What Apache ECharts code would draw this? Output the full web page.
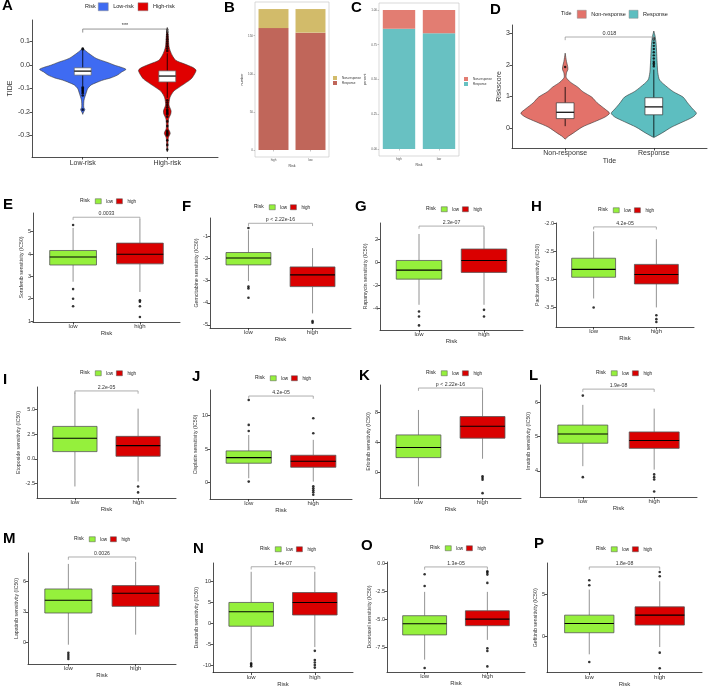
<!DOCTYPE html>
<html><head><meta charset="utf-8">
<script src="https://cdn.jsdelivr.net/npm/echarts@6/dist/echarts.min.js"></script>
<style>html,body{margin:0;padding:0;background:#fff}#c{width:708px;height:688px}</style>
</head><body><div id="c"></div>
<script>
// ---------------- DATA ----------------
const riskCats = ['low', 'high'];
const tideCats = ['Low-risk', 'High-risk'];
const responseCats = ['Non-response', 'Response'];
const barCats = ['high', 'low'];

// A: TIDE by risk group (box stats: min, q1, median, q3, max)
const tideLowBox = [-0.09, -0.043, -0.026, -0.012, 0.062];
const tideHighBox = [-0.14, -0.072, -0.047, -0.025, 0.05];
const tideLowOut = [0.066, 0.07, -0.095, -0.1, -0.105, -0.11, -0.115, -0.12, -0.13, -0.19];
const tideHighOut = [0.06, 0.07, 0.08, 0.09, 0.1, 0.11, 0.12, 0.13, 0.14, 0.15,
  -0.15, -0.16, -0.17, -0.18, -0.19, -0.195, -0.2, -0.205, -0.21, -0.22, -0.24, -0.26, -0.28, -0.285, -0.29, -0.295, -0.3, -0.32, -0.34, -0.36];
const tideLowViolin = [[0.072,0],[0.06,0.035],[0.05,0.07],[0.028,0.16],[0.01,0.3],[0.0,0.37],[-0.018,0.51],[-0.03,0.46],[-0.043,0.41],[-0.055,0.33],[-0.064,0.24],[-0.075,0.16],[-0.085,0.1],[-0.1,0.06],[-0.12,0.04],[-0.15,0.015],[-0.18,0.012],[-0.19,0.025],[-0.2,0.01],[-0.21,0]];
const tideHighViolin = [[0.16,0],[0.12,0.012],[0.08,0.02],[0.06,0.035],[0.04,0.06],[0.02,0.1],[0.005,0.2],[-0.01,0.3],[-0.022,0.34],[-0.04,0.32],[-0.06,0.28],[-0.078,0.21],[-0.095,0.14],[-0.11,0.08],[-0.125,0.05],[-0.14,0.03],[-0.17,0.02],[-0.195,0.045],[-0.21,0.04],[-0.23,0.015],[-0.27,0.012],[-0.29,0.035],[-0.31,0.012],[-0.35,0.006],[-0.37,0]];
const tideTicks = [-0.3, -0.2, -0.1, 0.0, 0.1];
const tideBracket = 0.153;
const tideP = '***';

// B: counts (high, low)
const responseCount = [160, 154];
const nonResponseCount = [25, 31];
const countTicks = [0, 50, 100, 150];
// C: proportions (high, low)
const responsePct = [0.865, 0.832];
const nonResponsePct = [0.135, 0.168];
const pctTicks = [0, 0.25, 0.5, 0.75, 1];

// D: Riskscore by Tide response
const nonRespBox = [0.06, 0.3, 0.5, 0.8, 1.3];
const respBox = [-0.28, 0.42, 0.67, 0.96, 1.85];
const nonRespOut = [1.93];
const respOut = [1.95, 2.0, 2.05, 2.1, 2.2, 2.3, 2.4, 2.5, 2.6, 2.7, 2.8, 2.85];
const nonRespViolin = [[2.37,0],[2.1,0.015],[1.95,0.028],[1.85,0.03],[1.75,0.015],[1.6,0.012],[1.45,0.06],[1.3,0.14],[1.15,0.2],[0.98,0.3],[0.8,0.36],[0.6,0.45],[0.47,0.5],[0.35,0.45],[0.2,0.33],[0.03,0.19],[-0.16,0.09],[-0.25,0.04],[-0.35,0]];
const respViolin = [[3.07,0],[2.9,0.015],[2.7,0.025],[2.5,0.03],[2.2,0.035],[1.93,0.04],[1.75,0.045],[1.52,0.065],[1.3,0.15],[1.15,0.22],[0.98,0.33],[0.8,0.38],[0.6,0.44],[0.47,0.48],[0.35,0.44],[0.2,0.33],[0.03,0.2],[-0.16,0.09],[-0.3,0]];
const riskscoreTicks = [0, 1, 2, 3];
const riskscoreBracket = 2.88;
const riskscoreP = '0.018';

// E-P: drug sensitivity (IC50) boxes: min, q1, median, q3, max
const sorafenibLow = [2.76, 3.51, 3.87, 4.16, 5.17];
const sorafenibHigh = [2.3, 3.56, 3.99, 4.49, 5.55];
const sorafenibLowOut = [5.3, 2.43, 2.0, 1.66];
const sorafenibHighOut = [1.93, 1.86, 1.66, 1.18];
const sorafenibTicks = [1, 2, 3, 4, 5];
const sorafenibBracket = 5.65;
const sorafenibP = '0.0033';

const gemcitabineLow = [-3.02, -2.29, -1.98, -1.73, -0.72];
const gemcitabineHigh = [-4.48, -3.27, -2.74, -2.38, -1.53];
const gemcitabineLowOut = [-0.62, -3.27, -3.35, -3.77];
const gemcitabineHighOut = [-4.83, -4.9];
const gemcitabineTicks = [-5, -4, -3, -2, -1];
const gemcitabineBracket = -0.41;
const gemcitabineP = 'p < 2.22e-16';

const rapamycinLow = [-3.7, -1.46, -0.67, 0.17, 2.48];
const rapamycinHigh = [-3.7, -0.87, 0.17, 1.17, 3.05];
const rapamycinLowOut = [-4.29, -4.72, -5.5];
const rapamycinHighOut = [-4.14, -4.72];
const rapamycinTicks = [-4, -2, 0, 2];
const rapamycinBracket = 3.17;
const rapamycinP = '2.3e-07';

const paclitaxelLow = [-3.34, -2.96, -2.82, -2.62, -2.14];
const paclitaxelHigh = [-3.5, -3.08, -2.91, -2.73, -2.28];
const paclitaxelLowOut = [-3.5];
const paclitaxelHighOut = [-3.64, -3.71, -3.76];
const paclitaxelTicks = [-3.5, -3.0, -2.5, -2.0];
const paclitaxelBracket = -2.06;
const paclitaxelP = '4.2e-05';

const etoposideLow = [-2.8, 0.74, 2.09, 3.3, 6.75];
const etoposideHigh = [-2.29, 0.27, 1.35, 2.29, 5.1];
const etoposideLowOut = [];
const etoposideHighOut = [-2.8, -3.4];
const etoposideTicks = [-2.5, 0.0, 2.5, 5.0];
const etoposideBracket = 6.9;
const etoposideP = '2.2e-05';

const cisplatinLow = [0.65, 2.89, 3.73, 4.73, 7.1];
const cisplatinHigh = [0.15, 2.29, 3.18, 4.08, 6.37];
const cisplatinLowOut = [7.7, 8.6, 12.3, 0.15];
const cisplatinHighOut = [7.36, 9.6, -0.55, -0.85, -1.15, -1.45, -1.8];
const cisplatinTicks = [0, 5, 10];
const cisplatinBracket = 12.9;
const cisplatinP = '4.2e-05';

const erlotinibLow = [-1.8, 2.0, 3.34, 5.0, 8.3];
const erlotinibHigh = [1.85, 4.57, 6.15, 7.43, 10.9];
const erlotinibLowOut = [];
const erlotinibHighOut = [-0.48, -0.7, -0.92, -2.7];
const erlotinibTicks = [0, 4, 8];
const erlotinibBracket = 11.2;
const erlotinibP = 'p < 2.22e-16';

const imatinibLow = [4.14, 4.81, 5.08, 5.34, 5.93];
const imatinibHigh = [4.04, 4.66, 4.89, 5.14, 5.82];
const imatinibLowOut = [6.2, 3.82];
const imatinibHighOut = [3.9, 3.82, 3.75, 3.4];
const imatinibTicks = [4, 5, 6];
const imatinibBracket = 6.39;
const imatinibP = '1.9e-08';

const lapatinibLow = [-0.2, 2.9, 4.14, 5.25, 7.7];
const lapatinibHigh = [0.78, 3.55, 4.83, 5.58, 7.9];
const lapatinibLowOut = [-1.0, -1.2, -1.4, -1.6];
const lapatinibHighOut = [];
const lapatinibTicks = [0, 3, 6];
const lapatinibBracket = 8.38;
const lapatinibP = '0.0026';

const dasatinibLow = [-9.2, -0.71, 2.76, 4.97, 12.3];
const dasatinibHigh = [-5.7, 1.97, 4.97, 7.34, 12.3];
const dasatinibLowOut = [-9.6, -9.9, -10.3];
const dasatinibHighOut = [-6.6, -8.8, -9.4, -10.0, -10.6];
const dasatinibTicks = [-10, -5, 0, 5, 10];
const dasatinibBracket = 13.5;
const dasatinibP = '1.4e-07';

const docetaxelLow = [-8.6, -6.4, -5.4, -4.69, -2.57];
const docetaxelHigh = [-6.84, -5.58, -4.99, -4.25, -2.57];
const docetaxelLowOut = [-2.04, -1.0, -9.35];
const docetaxelHighOut = [-1.77, -1.03, -0.86, -0.74, -7.58, -7.82, -9.2];
const docetaxelTicks = [-7.5, -5.0, -2.5, 0.0];
const docetaxelBracket = -0.35;
const docetaxelP = '1.3e-05';

const gefitinibLow = [-2.2, 0.4, 1.52, 2.52, 5.6];
const gefitinibHigh = [-1.32, 1.32, 2.52, 3.52, 6.6];
const gefitinibLowOut = [6.12, 6.72, -3.12];
const gefitinibHighOut = [7.2, 7.72, -2.0, -3.88];
const gefitinibTicks = [0, 5];
const gefitinibBracket = 8.32;
const gefitinibP = '1.8e-08';

// ---------------- LAYOUT & STYLE ----------------
const FONT = '"Liberation Sans", Arial, Helvetica, sans-serif';
const GREEN = '#95F03C', RED = '#DA0000';

const drugPanels = [
  {id:'E', g:[33,213,180,322], y:[0.955,5.84], dec:0, name:'Sorafenib sensitivity (IC50)', ng:6, L:[3,206], lg:[80,201],
   d:[sorafenibLow, sorafenibHigh, sorafenibLowOut, sorafenibHighOut, sorafenibTicks, sorafenibBracket, sorafenibP]},
  {id:'F', g:[210,218,351,328], y:[-5.14,-0.17], dec:0, name:'Gemcitabine sensitivity (IC50)', ng:11, L:[182,208], lg:[254,207],
   d:[gemcitabineLow, gemcitabineHigh, gemcitabineLowOut, gemcitabineHighOut, gemcitabineTicks, gemcitabineBracket, gemcitabineP]},
  {id:'G', g:[380,223,523,330], y:[-5.9,3.44], dec:0, name:'Rapamycin sensitivity (IC50)', ng:12, L:[355,208], lg:[426,209],
   d:[rapamycinLow, rapamycinHigh, rapamycinLowOut, rapamycinHighOut, rapamycinTicks, rapamycinBracket, rapamycinP]},
  {id:'H', g:[556,223,694,327], y:[-3.85,-1.99], dec:1, name:'Paclitaxel sensitivity (IC50)', ng:16, L:[531,208], lg:[598,210],
   d:[paclitaxelLow, paclitaxelHigh, paclitaxelLowOut, paclitaxelHighOut, paclitaxelTicks, paclitaxelBracket, paclitaxelP]},
  {id:'I', g:[37,387,176,498], y:[-3.97,7.3], dec:1, name:'Etoposide sensitivity (IC50)', ng:16, L:[3,381], lg:[80,373],
   d:[etoposideLow, etoposideHigh, etoposideLowOut, etoposideHighOut, etoposideTicks, etoposideBracket, etoposideP]},
  {id:'J', g:[210,390,352,499], y:[-2.44,13.8], dec:0, name:'Cisplatin sensitivity (IC50)', ng:9, L:[192,378], lg:[255,378],
   d:[cisplatinLow, cisplatinHigh, cisplatinLowOut, cisplatinHighOut, cisplatinTicks, cisplatinBracket, cisplatinP]},
  {id:'K', g:[380,385,521,498], y:[-3.34,11.6], dec:0, name:'Erlotinib sensitivity (IC50)', ng:8, L:[359,377], lg:[426,373],
   d:[erlotinibLow, erlotinibHigh, erlotinibLowOut, erlotinibHighOut, erlotinibTicks, erlotinibBracket, erlotinibP]},
  {id:'L', g:[540,385,697,497], y:[3.24,6.51], dec:0, name:'Imatinib sensitivity (IC50)', ng:6, L:[529,377], lg:[596,373],
   d:[imatinibLow, imatinibHigh, imatinibLowOut, imatinibHighOut, imatinibTicks, imatinibBracket, imatinibP]},
  {id:'M', g:[28,553,176,664], y:[-2.09,8.77], dec:0, name:'Lapatinib sensitivity (IC50)', ng:7, L:[3,540], lg:[74,539],
   d:[lapatinibLow, lapatinibHigh, lapatinibLowOut, lapatinibHighOut, lapatinibTicks, lapatinibBracket, lapatinibP]},
  {id:'N', g:[213,563,353,674], y:[-11.8,14.4], dec:0, name:'Dasatinib sensitivity (IC50)', ng:12, L:[193,550], lg:[260,549],
   d:[dasatinibLow, dasatinibHigh, dasatinibLowOut, dasatinibHighOut, dasatinibTicks, dasatinibBracket, dasatinibP]},
  {id:'O', g:[387,562,525,672], y:[-9.7,0.09], dec:1, name:'Docetaxel sensitivity (IC50)', ng:15, L:[361,547], lg:[430,548],
   d:[docetaxelLow, docetaxelHigh, docetaxelLowOut, docetaxelHighOut, docetaxelTicks, docetaxelBracket, docetaxelP]},
  {id:'P', g:[547,563,702,673], y:[-4.4,8.8], dec:0, name:'Gefitinib sensitivity (IC50)', ng:7, L:[534,545], lg:[596,549],
   d:[gefitinibLow, gefitinibHigh, gefitinibLowOut, gefitinibHighOut, gefitinibTicks, gefitinibBracket, gefitinibP]}
];

const grids = [], xAxes = [], yAxes = [], series = [], titles = [], legends = [];

function addGrid(g) {
  grids.push({left: g[0], top: g[1], width: g[2] - g[0], height: g[3] - g[1], containLabel: false});
  return grids.length - 1;
}
function valueX(idx, cats, fs, margin, name, nameGap) {
  xAxes.push({type: 'value', gridIndex: idx, min: 0.4, max: 2.6,
    axisLine: {show: true, onZero: false, lineStyle: {color: '#222', width: 0.8}},
    axisTick: {show: true, customValues: [1, 2], length: 2.5, lineStyle: {color: '#222', width: 0.8}},
    axisLabel: {customValues: [1, 2], formatter: v => cats[Math.round(v) - 1], fontSize: fs, color: '#333', margin: margin, fontFamily: FONT},
    splitLine: {show: false},
    name: name || '', nameLocation: 'middle', nameGap: nameGap || 0,
    nameTextStyle: {fontSize: fs, color: '#333', fontFamily: FONT}});
}
function valueY(idx, range, ticks, dec, fs, name, nameGap, nfs) {
  yAxes.push({type: 'value', gridIndex: idx, min: range[0], max: range[1],
    axisLine: {show: true, onZero: false, lineStyle: {color: '#222', width: 0.8}},
    axisTick: {show: true, customValues: ticks, length: 2.5, lineStyle: {color: '#222', width: 0.8}},
    axisLabel: {customValues: ticks, formatter: v => v.toFixed(dec), fontSize: fs, color: '#333', margin: 2, fontFamily: FONT},
    splitLine: {show: false},
    name: name, nameLocation: 'middle', nameRotate: 90, nameGap: nameGap,
    nameTextStyle: {fontSize: nfs, color: '#333', fontFamily: FONT}});
}
function boxSeries(idx, name, x, stats, o) {
  series.push({type: 'custom', name: name, xAxisIndex: idx, yAxisIndex: idx, z: 3, silent: true,
    itemStyle: {color: o.fill},
    data: [[x].concat(stats)],
    renderItem: function (params, api) {
      const xv = api.value(0);
      const p = i => api.coord([xv, api.value(i)]);
      const mn = p(1), q1 = p(2), md = p(3), q3 = p(4), mx = p(5);
      const l = api.coord([xv - o.w / 2, 0])[0], r = api.coord([xv + o.w / 2, 0])[0];
      const ws = {stroke: o.whisker, lineWidth: o.wlw};
      return {type: 'group', children: [
        {type: 'line', shape: {x1: mn[0], y1: mn[1], x2: q1[0], y2: q1[1]}, style: ws},
        {type: 'line', shape: {x1: q3[0], y1: q3[1], x2: mx[0], y2: mx[1]}, style: ws},
        {type: 'rect', shape: {x: l, y: q3[1], width: r - l, height: q1[1] - q3[1]}, style: {fill: o.fill, stroke: o.border, lineWidth: o.blw}},
        {type: 'line', shape: {x1: l, y1: md[1], x2: r, y2: md[1]}, style: {stroke: '#000', lineWidth: o.mlw}}
      ]};
    }});
}
function violinSeries(idx, name, x, profile, fill) {
  series.push({type: 'custom', name: name, xAxisIndex: idx, yAxisIndex: idx, z: 2, silent: true,
    itemStyle: {color: fill},
    data: [[x, profile[profile.length - 1][0], profile[0][0]]],
    renderItem: function (params, api) {
      const xv = api.value(0);
      const right = profile.map(p => api.coord([xv + p[1], p[0]]));
      const left = profile.slice().reverse().map(p => api.coord([xv - p[1], p[0]]));
      return {type: 'polygon', shape: {points: right.concat(left), smooth: 0.25},
        style: {fill: fill, stroke: '#333', lineWidth: 0.6}};
    }});
}
function outlierSeries(idx, x, vals, size) {
  series.push({type: 'scatter', xAxisIndex: idx, yAxisIndex: idx, z: 5, silent: true,
    symbolSize: size, itemStyle: {color: '#000'},
    data: vals.map(v => [x, v])});
}
function bracketSeries(idx, yVal, tip, label, fs, color) {
  series.push({type: 'custom', xAxisIndex: idx, yAxisIndex: idx, z: 6, silent: true,
    data: [[1, 2, yVal]],
    renderItem: function (params, api) {
      const a = api.coord([api.value(0), api.value(2)]), b = api.coord([api.value(1), api.value(2)]);
      const a2 = api.coord([api.value(0), api.value(2) - tip]), b2 = api.coord([api.value(1), api.value(2) - tip]);
      return {type: 'group', children: [
        {type: 'polyline', shape: {points: [a2, a, b, b2]}, style: {stroke: color, lineWidth: 0.8, fill: null}},
        {type: 'text', style: {text: label, x: (a[0] + b[0]) / 2, y: a[1] - 0.8, align: 'center', verticalAlign: 'bottom',
          fontSize: fs, fill: '#333', fontFamily: FONT}}
      ]};
    }});
}
function letter(t, pos) {
  titles.push({text: t, left: pos[0], top: pos[1] - 8.5, padding: 0,
    textStyle: {fontSize: 15, fontWeight: 'bold', color: '#000', fontFamily: FONT}});
}
function label(t, x, cy, fs) {
  titles.push({text: t, left: x, top: cy - fs * 0.6, padding: 0,
    textStyle: {fontSize: fs, fontWeight: 'normal', color: '#222', fontFamily: FONT}});
}

// ---- Panel A ----
(function () {
  const i = addGrid([32, 20, 218, 157]);
  valueX(i, tideCats, 7, 2.5);
  valueY(i, [-0.3915, 0.1915], tideTicks, 1, 7, 'TIDE', 13, 7);
  violinSeries(i, 'Low-risk', 1, tideLowViolin, '#3F6BF2');
  violinSeries(i, 'High-risk', 2, tideHighViolin, '#E00000');
  const o = {w: 0.2, fill: '#fff', border: '#666', blw: 0.7, whisker: '#000', wlw: 0.8, mlw: 1.2};
  boxSeries(i, 'Low-risk', 1, tideLowBox, o);
  boxSeries(i, 'High-risk', 2, tideHighBox, o);
  outlierSeries(i, 1, tideLowOut, 2.6);
  outlierSeries(i, 2, tideHighOut, 2.6);
  bracketSeries(i, tideBracket, 0.015, tideP, 5.5, '#777');
  letter('A', [2, 7]);
  label('Risk', 85, 6.5, 5.5);
  legends.push({left: 98, top: 2.5, itemWidth: 10, itemHeight: 8, itemGap: 4, icon: 'rect', selectedMode: false, padding: 0,
    textStyle: {fontSize: 5.5, color: '#222', fontFamily: FONT},
    data: [{name: 'Low-risk', itemStyle: {color: '#3F6BF2', borderColor: '#888', borderWidth: 0.5}},
           {name: 'High-risk', itemStyle: {color: '#E00000', borderColor: '#888', borderWidth: 0.5}}]});
})();

// ---- Panels B and C ----
function barPanel(g, range, ticks, dec, yname, resp, nonResp, colResp, colNon, legendPos, ynameGap) {
  const i = addGrid(g);
  grids[i].show = true; grids[i].borderColor = '#c8c8c8'; grids[i].borderWidth = 0.7; grids[i].backgroundColor = '#fff';
  xAxes.push({type: 'category', gridIndex: i, data: barCats,
    axisLine: {show: false}, axisTick: {show: true, length: 1.5, alignWithLabel: true, lineStyle: {color: '#888', width: 0.5}},
    axisLabel: {fontSize: 3, color: '#555', margin: 2, fontFamily: FONT},
    name: 'Risk', nameLocation: 'middle', nameGap: 7, nameTextStyle: {fontSize: 3.5, color: '#333', fontFamily: FONT}});
  yAxes.push({type: 'value', gridIndex: i, min: range[0], max: range[1],
    axisLine: {show: false},
    axisTick: {show: true, customValues: ticks, length: 1.5, lineStyle: {color: '#888', width: 0.5}},
    axisLabel: {customValues: ticks, formatter: v => v.toFixed(dec), fontSize: 3, color: '#555', margin: 2, fontFamily: FONT},
    splitLine: {show: false},
    name: yname, nameLocation: 'middle', nameRotate: 90, nameGap: ynameGap, nameTextStyle: {fontSize: 3.5, color: '#333', fontFamily: FONT}});
  series.push({type: 'bar', name: 'Response', stack: 's' + i, xAxisIndex: i, yAxisIndex: i, data: resp, barWidth: '81%',
    itemStyle: {color: colResp}, silent: true});
  series.push({type: 'bar', name: 'Non-response', stack: 's' + i, xAxisIndex: i, yAxisIndex: i, data: nonResp, barWidth: '81%',
    itemStyle: {color: colNon}, silent: true});
  legends.push({orient: 'vertical', left: legendPos[0], top: legendPos[1], itemWidth: 4, itemHeight: 4, itemGap: 1, icon: 'rect',
    selectedMode: false, padding: 0, textStyle: {fontSize: 3, color: '#333', fontFamily: FONT},
    data: [{name: 'Non-response', itemStyle: {color: colNon}}, {name: 'Response', itemStyle: {color: colResp}}]});
}
barPanel([255, 2, 329, 157], [-9.25, 194.25], countTicks, 0, 'number', responseCount, nonResponseCount, '#C0665A', '#D2BB6A', [333, 76], 10);
letter('B', [224, 9]);
barPanel([379, 3, 459, 156], [-0.05, 1.05], pctTicks, 2, 'percent', responsePct, nonResponsePct, '#68C1C2', '#E27D72', [464, 77], 10);
letter('C', [351, 9]);

// ---- Panel D ----
(function () {
  const i = addGrid([512, 25, 707, 148]);
  valueX(i, responseCats, 7, 2, 'Tide', 8);
  valueY(i, [-0.63, 3.26], riskscoreTicks, 0, 7, 'Riskscore', 8, 7);
  violinSeries(i, 'Non-response', 1, nonRespViolin, '#E3726A');
  violinSeries(i, 'Response', 2, respViolin, '#5DBEC0');
  const o = {w: 0.2, fill: '#fff', border: '#333', blw: 0.7, whisker: '#000', wlw: 0.8, mlw: 1.2};
  boxSeries(i, 'Non-response', 1, nonRespBox, o);
  boxSeries(i, 'Response', 2, respBox, o);
  outlierSeries(i, 1, nonRespOut, 2.4);
  outlierSeries(i, 2, respOut, 2.4);
  bracketSeries(i, riskscoreBracket, 0.1, riskscoreP, 5.5, '#999');
  letter('D', [490, 11]);
  label('Tide', 561, 14, 5.5);
  legends.push({left: 577, top: 10, itemWidth: 9, itemHeight: 8, itemGap: 3, icon: 'rect', selectedMode: false, padding: 0,
    textStyle: {fontSize: 5.5, color: '#222', fontFamily: FONT},
    data: [{name: 'Non-response', itemStyle: {color: '#E3726A', borderColor: '#888', borderWidth: 0.5}},
           {name: 'Response', itemStyle: {color: '#5DBEC0', borderColor: '#888', borderWidth: 0.5}}]});
})();

// ---- Panels E-P ----
drugPanels.forEach(function (pnl) {
  const [low, high, lowOut, highOut, ticks, br, p] = pnl.d;
  const i = addGrid(pnl.g);
  valueX(i, riskCats, 6, 1.5, 'Risk', 7);
  valueY(i, pnl.y, ticks, pnl.dec, 5.5, pnl.name, pnl.ng, 5.2);
  const oL = {w: 0.7, fill: GREEN, border: '#555', blw: 0.8, whisker: '#777', wlw: 0.8, mlw: 1.1};
  const oH = Object.assign({}, oL, {fill: RED});
  boxSeries(i, 'low', 1, low, oL);
  boxSeries(i, 'high', 2, high, oH);
  outlierSeries(i, 1, lowOut, 2.6);
  outlierSeries(i, 2, highOut, 2.6);
  bracketSeries(i, br, 0.025 * (pnl.y[1] - pnl.y[0]), p, 5.2, '#999');
  letter(pnl.id, pnl.L);
  label('Risk', pnl.lg[0], pnl.lg[1], 5);
  legends.push({left: pnl.lg[0] + 15, top: pnl.lg[1] - 2.5, itemWidth: 6, itemHeight: 5, itemGap: 3, icon: 'rect',
    selectedMode: false, padding: 0, textStyle: {fontSize: 4.6, color: '#222', fontFamily: FONT},
    data: [{name: 'low', itemStyle: {color: GREEN, borderColor: '#555', borderWidth: 0.5}},
           {name: 'high', itemStyle: {color: RED, borderColor: '#555', borderWidth: 0.5}}]});
});

const chart = echarts.init(document.getElementById('c'), null, {renderer: 'canvas'});
chart.setOption({
  animation: false,
  backgroundColor: '#fff',
  textStyle: {fontFamily: FONT},
  title: titles,
  legend: legends,
  grid: grids,
  xAxis: xAxes,
  yAxis: yAxes,
  series: series
});
</script></body></html>
